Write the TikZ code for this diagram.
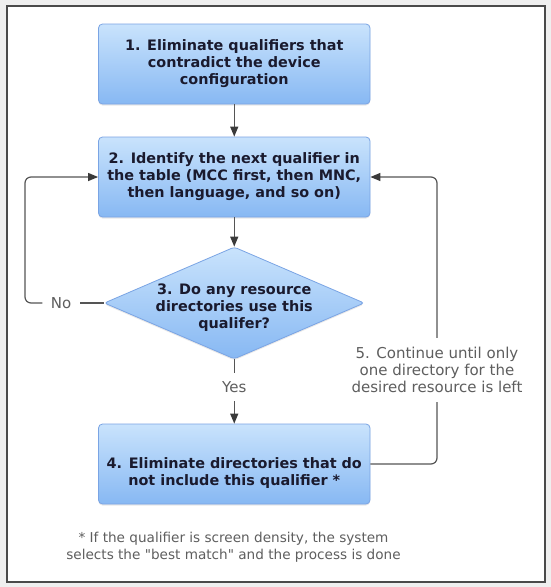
\documentclass[tikz,border=0pt]{standalone}
\usepackage{fontspec}
\setmainfont{DejaVu Sans}
\newfontfamily\footfont{DejaVu Sans}
\usetikzlibrary{arrows.meta,shapes.geometric,shadows}
\definecolor{bgout}{HTML}{EFEFEF}
\definecolor{framec}{HTML}{4A4A4A}
\definecolor{boxtop}{HTML}{C9E3FC}
\definecolor{boxbot}{HTML}{87B8F3}
\definecolor{boxline}{HTML}{7AA4E4}
\definecolor{boxtext}{HTML}{1A1A2E}
\definecolor{linec}{HTML}{555555}
\definecolor{headc}{HTML}{3A3A3A}
\definecolor{lblc}{HTML}{5E5E5E}
\begin{document}
\begin{tikzpicture}[x=1pt,y=-1pt,
  stepbox/.style={draw=boxline, line width=0.8pt, rounded corners=4pt,
    top color=boxtop, bottom color=boxbot, minimum width=271.5pt,
    minimum height=80pt, inner sep=0pt, text=boxtext,
    font=\bfseries\fontsize{14.4}{17}\selectfont, align=center,
    drop shadow={opacity=0.18, shadow xshift=0pt, shadow yshift=-1.5pt}},
  decision/.style={diamond, draw=boxline, line width=0.8pt, rounded corners=3pt,
    top color=boxtop, bottom color=boxbot, minimum width=260pt,
    minimum height=112pt, inner sep=0pt,
    drop shadow={opacity=0.18, shadow xshift=0pt, shadow yshift=-1.5pt}},
  btext/.style={inner sep=0pt, text=boxtext, align=center,
    font=\bfseries\fontsize{14.4}{17}\selectfont},
  lbl/.style={inner sep=0pt, text=lblc, align=center,
    font=\fontsize{15}{17}\selectfont},
  foot/.style={inner sep=0pt, text=lblc, align=center,
    font=\footfont\fontsize{13.6}{17}\selectfont},
  conn/.style={draw=linec, line width=1.2pt},
  arr/.style={conn, -{Triangle[length=10pt, width=8pt, color=headc]}}
]
\useasboundingbox (0,0) rectangle (551,587);
\fill[bgout] (0,0) rectangle (551,587);
\draw[framec, line width=2pt, fill=white] (7,6) rectangle (545,582);

\node[stepbox] (b1) at (234.25,64) {1. Eliminate qualifiers that\\contradict the device\\configuration};
\node[stepbox] (b2) at (234.25,177) {2. Identify the next qualifier in\\the table (MCC first, then MNC,\\then language, and so on)};
\node[decision] (d3) at (234.25,303) {};
\node[btext] (d3t) at (234.25,308) {3. Do any resource\\directories use this\\qualifer?};
\node[stepbox] (b4) at (234.25,464) {};
\node[btext] (b4t) at (234.25,473) {4. Eliminate directories that do\\not include this qualifier *};

\node[lbl, minimum height=28pt] (yes) at (234.25,387) {Yes};
\node[lbl, minimum width=37pt] (no) at (61,303) {No};
\node[lbl, minimum height=64pt] (c5) at (437,370) {5. Continue until only\\one directory for the\\desired resource is left};

\node[foot] (fn) at (233.5,547.5) {* If the qualifier is screen density, the system\\selects the "best match" and the process is done};

\coordinate (lc) at (25,177);

\draw[arr] (b1) -- (b2);
\draw[arr] (b2) -- (d3);
\draw[conn] (d3) -- (yes);
\draw[arr] (yes) -- (b4);
\draw[conn] (d3.west) -- (no.east);
\draw[arr, rounded corners=6pt] (no.west) -| (lc) -- (b2.west);
\draw[conn, rounded corners=6pt] (b4.east) -| (c5.south);
\draw[arr, rounded corners=6pt] (c5.north) |- (b2.east);
\end{tikzpicture}
\end{document}
